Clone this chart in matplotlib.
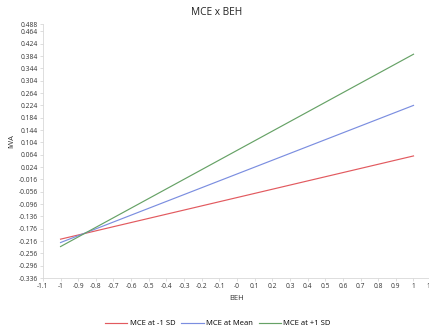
import numpy as np
import matplotlib.pyplot as plt

plt.rcParams['font.family'] = ['Open Sans', 'DejaVu Sans']

# simple slopes: IWA predicted at BEH = -1 and BEH = 1
beh = [-1, 1]
iwa_low = [-0.210, 0.060]    # MCE at -1 SD
iwa_mean = [-0.221, 0.224]   # MCE at Mean
iwa_high = [-0.234, 0.390]   # MCE at +1 SD

series_names = ['MCE at -1 SD', 'MCE at Mean', 'MCE at +1 SD']
series_colors = ['#e25a5f', '#7b8ee0', '#66a266']

xticks = np.round(np.arange(-1.1, 1.1001, 0.1), 1)
yticks = list(np.round(np.arange(-0.336, 0.4641, 0.04), 3)) + [0.488]

fig = plt.figure(figsize=(4.29, 3.29), dpi=100)
ax = fig.add_axes([0.100, 0.155, 0.905, 0.772])

for vals, name, col in zip([iwa_low, iwa_mean, iwa_high], series_names, series_colors):
    ax.plot(beh, vals, color=col, linewidth=0.85, label=name)

ax.set_xlim(-1.1, 1.1)
ax.set_ylim(-0.336, 0.488)
ax.set_xticks(xticks)
ax.set_xticklabels(['-0' if abs(v) < 1e-9 else f'{v:g}' for v in xticks])
ax.set_yticks(yticks)
ax.set_yticklabels([f'{v:.3f}' for v in yticks])
ax.tick_params(labelsize=4.8, length=2, width=0.5, color='#d0d0d0', labelcolor='#333333', pad=1.5)

for s in ['top', 'right']:
    ax.spines[s].set_visible(False)
for s in ['left', 'bottom']:
    ax.spines[s].set_color('#d8d8d8')
    ax.spines[s].set_linewidth(0.6)

fig.text(0.506, 0.963, 'MCE x BEH', ha='center', va='center', fontsize=7.3, color='#222222')
ax.set_xlabel('BEH', fontsize=5.5, color='#333333', labelpad=4)
ax.set_ylabel('IWA', fontsize=5.5, color='#333333')
ax.yaxis.set_label_coords(-0.072, 0.54)

fig.legend(loc='center', bbox_to_anchor=(0.508, 0.016), ncol=3, frameon=False,
           fontsize=5.5, handlelength=2.9, handletextpad=0.3, columnspacing=0.8)

fig.savefig('out.png', dpi=100)
